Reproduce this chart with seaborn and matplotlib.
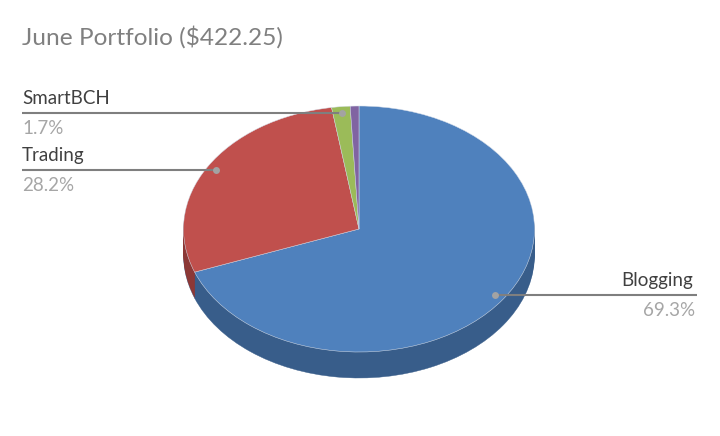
import numpy as np
import matplotlib
matplotlib.use('Agg')
import matplotlib.pyplot as plt
import seaborn as sns

# Portfolio split
categories = ['Blogging', 'Trading', 'SmartBCH', 'Other']
shares = [69.3, 28.2, 1.7, 0.8]
labelled = ['Blogging', 'Trading', 'SmartBCH']
title = 'June Portfolio ($422.25)'

top_colors = ['#4f81bd', '#c0504d', '#9bbb59', '#8064a2']
side_colors = ['#385d8a', '#8c3836', '#6f8740', '#5c4776']

sns.set_theme(style='white')
plt.rcParams['font.family'] = ['Lato', 'DejaVu Sans']

W, H = 720, 436
cx, cy = 359, 229    # pie centre in pixels from top left
rx, ry = 175.5, 123  # tilted pie radii
depth = 26

fig = plt.figure(figsize=(W / 100, H / 100), dpi=100, facecolor='white')
ax = fig.add_axes([0, 0, 1, 1])


# Stack darker pies downwards for the side wall
for offset in np.arange(depth, 0, -1):
    ax.pie(shares, colors=side_colors, startangle=90, counterclock=False,
           center=(0, -offset / ry), frame=False,
           wedgeprops={'linewidth': 0.3, 'edgecolor': side_colors[0]
                       if offset == depth else 'none'})
ax.pie(shares, colors=top_colors, startangle=90, counterclock=False,
       wedgeprops={'linewidth': 0.35, 'edgecolor': '#d6deea'})

# pie forces equal aspect, undo it so that the wedges become ellipses
ax.set_aspect('auto')
ax.set_xlim(-cx / rx, (W - cx) / rx)
ax.set_ylim(-(H - cy) / ry, cy / ry)
sns.despine(ax=ax, left=True, bottom=True)


def to_px(px, py):
    return (px - cx) / rx, (cy - py) / ry


# Leader lines start at the middle of each slice
ends = np.cumsum(shares)
mids = (ends - np.array(shares) / 2) / 100 * 2 * np.pi
line_color = '#7f7f7f'
dot_color = '#a3a3a3'
label_color = '#404040'
pct_color = '#a6a6a6'

for name in labelled:
    i = categories.index(name)
    dot_x = 0.945 * np.sin(mids[i])
    dot_y = 0.945 * np.cos(mids[i])
    right = name == 'Blogging'
    edge_x = to_px(697 if right else 22, 0)[0]
    ax.plot([edge_x, dot_x], [dot_y, dot_y], color=line_color, lw=1.5,
            solid_capstyle='butt', zorder=5)
    ax.plot(dot_x, dot_y, 'o', ms=5, color=dot_color, mec='none', zorder=6)
    text_x = to_px(693 if right else 22, 0)[0]
    pct_x = to_px(695 if right else 22, 0)[0]
    align = 'right' if right else 'left'
    ax.annotate(name, (text_x, dot_y), xytext=(0, 6), textcoords='offset pixels',
                ha=align, va='bottom', fontsize=13.5, color=label_color)
    ax.annotate(f'{shares[i]}%', (pct_x, dot_y), xytext=(0, -7),
                textcoords='offset pixels', ha=align, va='top',
                fontsize=13.5, color=pct_color)

fig.text(22 / W, 1 - 37 / H, title, fontsize=17.6, color='#808080',
         ha='left', va='center')

fig.savefig('out.png', dpi=100, facecolor='white')
